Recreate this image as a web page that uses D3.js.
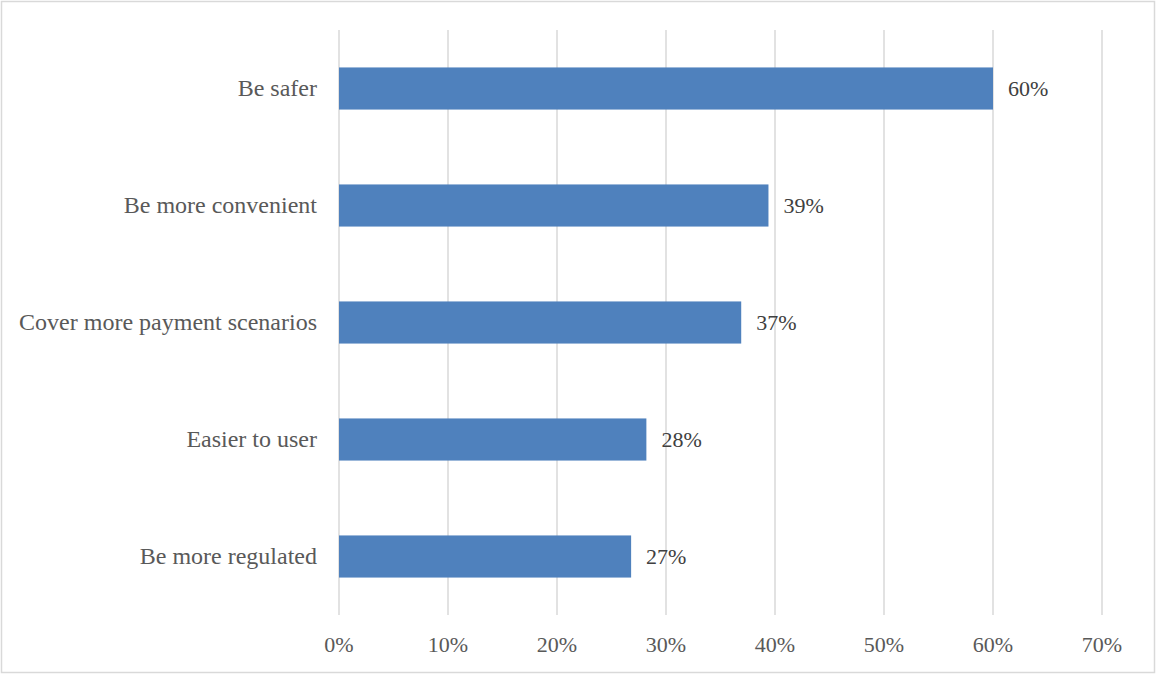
<!DOCTYPE html>
<html>
<head>
<meta charset="utf-8">
<script src="https://cdn.jsdelivr.net/npm/d3@7"></script>
<style>
  html, body { margin: 0; padding: 0; background: #fff; }
  svg text { font-family: "Liberation Serif", "Times New Roman", serif; }
</style>
</head>
<body>
<div id="chart"></div>
<script>
const categories = [
  "Be safer",
  "Be more convenient",
  "Cover more payment scenarios",
  "Easier to user",
  "Be more regulated"
];
const values = [0.60, 0.394, 0.369, 0.282, 0.268];
const valueLabels = ["60%", "39%", "37%", "28%", "27%"];
const ticks = [0, 0.1, 0.2, 0.3, 0.4, 0.5, 0.6, 0.7];

const WIDTH = 1157;
const HEIGHT = 675;
const PLOT = { left: 339, right: 1102, top: 30, bottom: 615 };

const svg = d3.select("#chart")
  .append("svg")
  .attr("width", WIDTH)
  .attr("height", HEIGHT);

// outer frame
svg.append("rect")
  .attr("x", 1.5)
  .attr("y", 1.5)
  .attr("width", WIDTH - 4)
  .attr("height", HEIGHT - 4)
  .attr("fill", "#fff")
  .attr("stroke", "#d9d9d9")
  .attr("stroke-width", 1.5);

const x = d3.scaleLinear().domain([0, 0.7]).range([PLOT.left, PLOT.right]);
const y = d3.scaleBand()
  .domain(categories)
  .range([PLOT.top, PLOT.bottom])
  .paddingInner(0.64)
  .paddingOuter(0.32);

// gridlines
svg.append("g")
  .selectAll("line")
  .data(ticks)
  .join("line")
  .attr("x1", (d) => x(d))
  .attr("x2", (d) => x(d))
  .attr("y1", PLOT.top)
  .attr("y2", PLOT.bottom)
  .attr("stroke", "#d9d9d9")
  .attr("stroke-width", 1.5);

// bars
svg.append("g")
  .selectAll("rect")
  .data(categories)
  .join("rect")
  .attr("x", x(0))
  .attr("y", (d) => y(d))
  .attr("width", (d, i) => x(values[i]) - x(0))
  .attr("height", y.bandwidth())
  .attr("fill", "#4f81bd");

// data labels
svg.append("g")
  .selectAll("text")
  .data(categories)
  .join("text")
  .attr("x", (d, i) => x(values[i]) + 15)
  .attr("y", (d) => y(d) + y.bandwidth() / 2)
  .attr("dy", "0.35em")
  .attr("font-size", 22)
  .attr("fill", "#404040")
  .text((d, i) => valueLabels[i]);

// category axis labels
svg.append("g")
  .selectAll("text")
  .data(categories)
  .join("text")
  .attr("x", PLOT.left - 22)
  .attr("y", (d) => y(d) + y.bandwidth() / 2)
  .attr("dy", "0.33em")
  .attr("text-anchor", "end")
  .attr("font-size", 24)
  .attr("fill", "#595959")
  .text((d) => d);

// value axis tick labels
svg.append("g")
  .selectAll("text")
  .data(ticks)
  .join("text")
  .attr("x", (d) => x(d))
  .attr("y", 652)
  .attr("text-anchor", "middle")
  .attr("font-size", 22)
  .attr("fill", "#595959")
  .text((d) => d3.format(".0%")(d));
</script>
</body>
</html>
